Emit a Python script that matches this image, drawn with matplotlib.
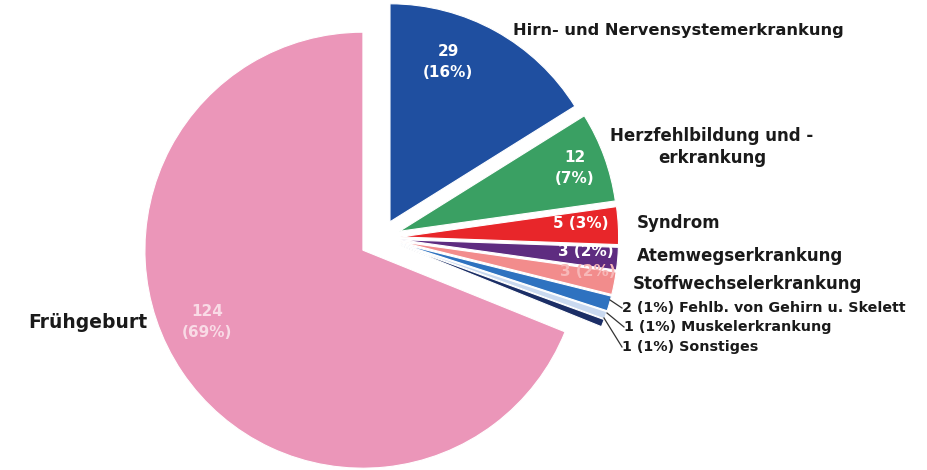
import matplotlib
matplotlib.use("Agg")
import matplotlib.pyplot as plt

# Werte (Uhrzeigersinn ab 12 Uhr)
kategorien = ["Hirn- und Nervensystemerkrankung", "Herzfehlbildung und -\nerkrankung",
              "Syndrom", "Atemwegserkrankung", "Stoffwechselerkrankung",
              "Fehlb. von Gehirn u. Skelett", "Muskelerkrankung", "Sonstiges",
              "Frühgeburt"]
anzahl = [29, 12, 5, 3, 3, 2, 1, 1, 124]
prozent = [16, 7, 3, 2, 2, 1, 1, 1, 69]
farben = ["#1f4fa0", "#3aa063", "#e8262a", "#5e2c80", "#f28c8c",
          "#2e72c0", "#c9d9f0", "#1b2e66", "#eb96b9"]

W, H = 928, 470
R = 218.0          # Radius in Pixel
CX, CY = 381, 238  # Mittelpunkt im Bild

def px(x, y):
    # Bildpixel -> Datenkoordinaten (Radius 1)
    return (x - CX) / R, (CY - y) / R

plt.rcParams['font.family'] = ['DejaVu Sans']
fig = plt.figure(figsize=(W / 100, H / 100), dpi=100)
ax = fig.add_axes([0, 0, 1, 1])

explode = [0.085, 0.09, 0.09, 0.09, 0.09, 0.09, 0.09, 0.09, 0.10]
ax.pie(anzahl, colors=farben, startangle=90, counterclock=False,
       explode=explode, radius=1,
       wedgeprops=dict(edgecolor="white", linewidth=0.8))

ax.set_xlim(-CX / R, (W - CX) / R)
ax.set_ylim(-(H - CY) / R, CY / R)
ax.set_aspect("equal")
ax.axis("off")

# Beschriftungen im Kuchen
inner = [(0, 448, 62), (1, 575, 168), (2, 581, 224), (3, 586, 252),
         (4, 588, 272), (8, 207, 322)]
for i, x, y in inner:
    if anzahl[i] >= 12:
        s = f"{anzahl[i]}\n({prozent[i]}%)"
    else:
        s = f"{anzahl[i]} ({prozent[i]}%)"
    col = "white"
    if i == 4:
        col = "#f7b8b8"
    if i == 8:
        col = "#f9dbe6"
    ax.text(*px(x, y), s, color=col, fontsize=11, fontweight="bold",
            ha="center", va="center", linespacing=1.45)

# Beschriftungen außen
dunkel = "#1a1a1a"
ax.text(*px(513, 30), kategorien[0], fontsize=11.7, fontweight="bold",
        ha="left", va="center", color=dunkel)
ax.text(*px(712, 147), kategorien[1], fontsize=12, fontweight="bold",
        ha="center", va="center", color=dunkel, linespacing=1.35)
for i, x, y in [(2, 637, 223), (3, 637, 256), (4, 633, 284)]:
    ax.text(*px(x, y), kategorien[i], fontsize=12, fontweight="bold",
            ha="left", va="center", color=dunkel)
ax.text(*px(28, 323), kategorien[8], fontsize=13.5, fontweight="bold",
        ha="left", va="center", color=dunkel)

# kleine Segmente mit Führungslinien
klein = [(610, 300, 622, 308), (607, 313, 624, 327), (604, 318, 622, 347)]
for i, (x0, y0, x1, y1) in zip([5, 6, 7], klein):
    ax.plot(*zip(px(x0, y0), px(x1, y1)), color="#333333", lw=0.9)
    ax.text(*px(x1, y1), f"{anzahl[i]} ({prozent[i]}%) {kategorien[i]}",
            fontsize=10.3, fontweight="bold", ha="left", va="center",
            color=dunkel)

fig.savefig("out.png", dpi=100, facecolor="white")
